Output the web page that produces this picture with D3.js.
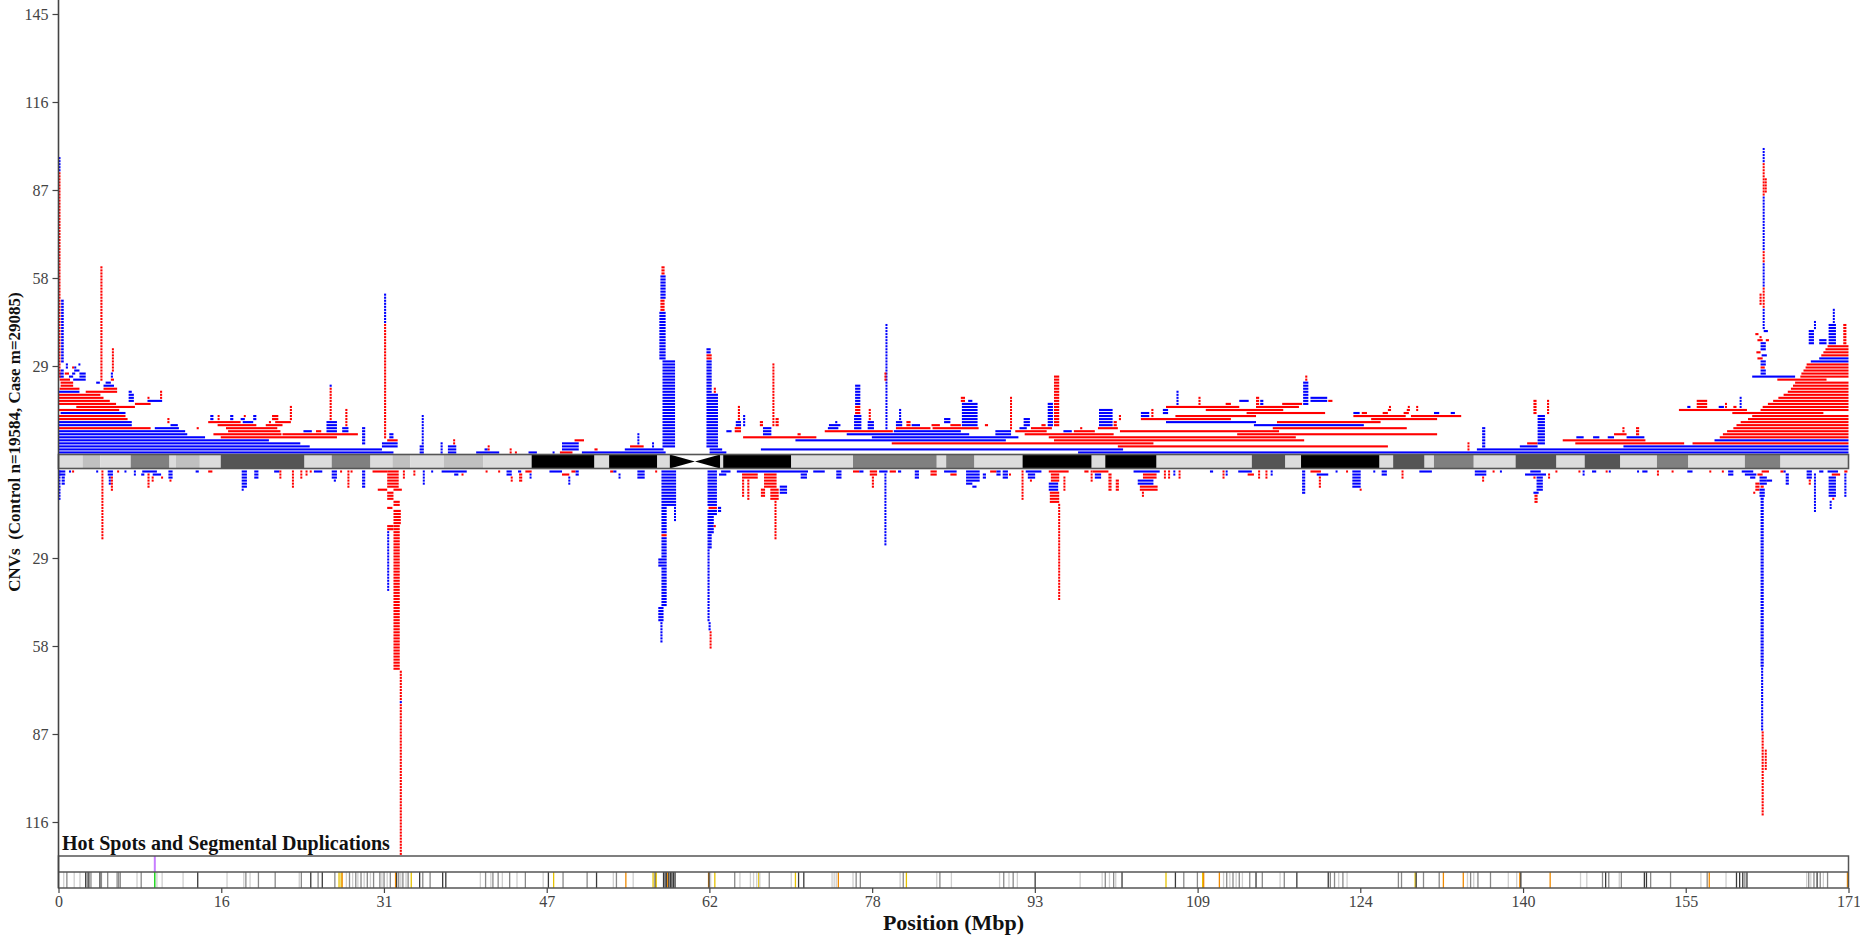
<!DOCTYPE html>
<html><head><meta charset="utf-8">
<script src="https://cdn.jsdelivr.net/npm/d3@7"></script>
<style>
body{margin:0;background:#fff}
svg{display:block}
text{font-family:"Liberation Serif","DejaVu Serif",serif}
</style>
</head><body>
<svg id="chart" width="1860" height="935"></svg>
<script>
// Chromosome 6 CNV map: case / control CNV stacks around the ideogram
const chrLength = 171;
const xTicks = [0, 15.55, 31.09, 46.64, 62.18, 77.73, 93.27, 108.82, 124.36, 139.91, 155.45, 171];
const yTicksUpper = [29, 58, 87, 116, 145];
const yTicksLower = [29, 58, 87, 116];
const yTitle = "CNVs  (Control n=19584, Case m=29085)";
const xTitle = "Position (Mbp)";
const trackTitle = "Hot Spots and Segmental Duplications";

// cytobands: [start Mbp, end Mbp, stain]
const bands = [
  [0,2.3,'gneg'],[2.3,4.0,'gpos25'],[4.0,6.9,'gneg'],[6.9,10.6,'gpos50'],[10.6,11.2,'gneg'],
  [11.2,13.5,'gpos25'],[13.5,15.5,'gneg'],[15.5,23.5,'gpos75'],[23.5,26.1,'gneg'],[26.1,29.8,'gpos50'],
  [29.8,31.9,'gneg'],[31.9,33.6,'gpos25'],[33.6,36.8,'gneg'],[36.8,40.6,'gpos25'],[40.6,45.2,'gneg'],
  [45.2,51.2,'gpos100'],[51.2,52.6,'gneg'],[52.6,57.2,'gpos100'],[57.2,58.4,'gneg'],[58.4,63.2,'acen'],
  [63.2,63.5,'gneg'],[63.5,70.0,'gpos100'],[70.0,75.9,'gneg'],[75.9,83.9,'gpos50'],[83.9,84.8,'gneg'],
  [84.8,87.5,'gpos50'],[87.5,92.1,'gneg'],[92.1,98.7,'gpos100'],[98.7,100.0,'gneg'],[100.0,104.9,'gpos100'],
  [104.9,114.0,'gneg'],[114.0,117.2,'gpos75'],[117.2,118.7,'gneg'],[118.7,126.2,'gpos100'],[126.2,127.5,'gneg'],
  [127.5,130.5,'gpos75'],[130.5,131.4,'gneg'],[131.4,135.2,'gpos50'],[135.2,139.2,'gneg'],[139.2,143.1,'gpos75'],
  [143.1,145.8,'gneg'],[145.8,149.2,'gpos75'],[149.2,152.7,'gneg'],[152.7,155.7,'gpos50'],[155.7,161.1,'gneg'],
  [161.1,164.5,'gpos50'],[164.5,171,'gneg']
];

// CNVs above the ideogram: [type R=loss/B=gain, start, end, first stack level, last stack level]
const upperCNVs = [
  ['B',0,32.0,0,0],['B',0,30.9,1,1],['B',0,24.0,2,2],['B',0,23.1,3,3],['B',0,20.1,4,4],
  ['B',0,14.0,5,5],['R',15.5,26.6,5,5],
  ['B',0,12.3,6,6],['R',14.8,21.3,6,6],['R',21.4,28.6,6,6],
  ['B',0,12.1,7,7],['R',16.2,21.2,7,7],['B',23.4,24.2,7,7],['R',24.6,25.1,7,7],['B',27.1,27.7,7,8],
  ['R',0,8.8,8,8],['B',9.2,11.5,8,8],['R',13.2,13.4,8,8],['R',16.0,20.9,8,8],
  ['B',0,7.0,9,10],['B',10.7,11.4,9,9],['R',15.2,18.9,9,9],['R',19.8,21.4,9,9],['R',27.4,27.6,9,14],
  ['R',10.4,10.6,10,11],['R',14.3,17.4,10,10],['B',17.6,18.6,10,10],['R',20.1,20.3,10,10],['R',20.7,22.2,10,10],
  ['B',25.6,26.6,7,10],
  ['R',0,6.6,11,11],['B',14.5,14.8,11,12],['R',15.2,15.3,11,12],['B',16.4,16.7,11,12],['B',17.4,17.8,11,11],
  ['R',17.7,17.8,12,12],['B',18.6,18.9,11,12],['R',20.4,21.0,11,12],['R',22.1,22.3,11,15],
  ['R',25.9,26.1,11,21],['B',25.9,26.1,22,22],
  ['R',0,6.4,12,12],['B',0.2,6.4,13,13],['R',0,5.8,14,14],['R',1.7,7.3,15,15],
  ['R',0,5.5,16,16],['R',7.3,8.8,16,16],
  ['R',0,4.9,17,17],['B',6.7,7.2,17,19],['B',8.5,9.9,17,17],['R',9.7,9.9,18,20],['R',8.5,8.6,18,18],
  ['R',0,4.3,18,18],['R',0,4.0,19,19],
  ['B',0,2.0,20,20],['R',2.6,5.6,20,20],['B',6.7,7.0,20,20],
  ['R',0.1,2.0,21,21],['R',4.3,5.6,21,21],
  ['R',0.2,1.4,22,23],['B',4.3,5.3,22,22],['B',3.6,3.95,23,23],['B',4.5,5.0,23,23],
  ['R',0.1,1.1,24,24],['B',1.4,2.6,24,24],['R',4.0,4.2,24,61],['R',5.0,5.3,24,24],
  ['B',0.1,0.5,25,26],['B',1.0,1.4,25,25],['B',2.0,2.6,25,26],['B',5.0,5.2,25,26],
  ['R',0.6,1.0,26,26],['B',1.3,1.6,26,26],
  ['B',0.2,0.5,27,27],['B',1.5,2.0,27,27],['R',5.1,5.2,27,34],
  ['B',0.7,0.9,28,29],['R',1.3,1.4,28,28],['B',1.5,1.7,28,28],['B',1.9,2.0,29,29],
  ['R',0,0.08,25,92],['B',0,0.08,93,97],['B',0.25,0.5,30,50],
  ['B',29.0,29.3,3,8],['B',30.9,32.4,2,3],['R',31.4,32.4,4,4],
  ['R',31.1,31.3,5,42],['B',31.1,31.3,43,52],['B',31.6,32.0,5,6],
  ['B',34.5,34.9,0,2],['B',34.7,34.85,3,12],
  ['B',36.5,36.7,0,3],['B',37.2,38.0,0,2],['R',37.7,37.8,3,4],
  ['B',39.9,42.1,0,0],['B',40.7,41.0,1,1],['R',41.0,41.1,1,2],
  ['R',43.1,43.2,0,1],['R',43.6,43.7,0,0],
  ['B',44.9,45.7,0,0],['B',47.2,47.3,0,0],
  ['R',47.9,49.1,0,0],['B',48.1,49.7,1,3],['R',49.3,50.2,4,4],
  ['B',50.0,58.0,0,0],['R',51.2,51.5,1,1],
  ['B',62.2,63.8,0,0],['B',97.4,171,0,0],
  ['B',54.1,57.8,1,1],['B',62.2,63.4,1,1],['B',67.1,101.7,1,1],
  ['R',54.6,55.9,2,2],['B',55.3,55.4,3,6],['B',56.7,56.8,2,3],
  ['B',57.7,58.9,2,30],['B',57.4,58.0,31,46],['R',57.5,57.9,47,50],['B',57.5,58.0,51,58],['R',57.6,57.9,59,61],
  ['B',61.9,63.0,2,19],['B',61.9,62.4,20,30],['R',61.9,62.4,31,32],['B',61.9,62.3,33,34],['R',62.6,62.8,20,21],
  ['R',101.2,127.0,2,2],
  ['R',79.6,104.6,3,3],
  ['B',70.4,90.5,4,4],['R',95.1,119.0,4,4],
  ['R',65.4,72.4,5,5],['B',77.7,91.7,5,5],['R',94.6,118.2,5,5],
  ['B',75.3,87.0,6,6],['R',92.3,100.8,6,6],['R',112.6,131.7,6,6],
  ['R',73.2,79.7,7,7],['B',79.8,86.2,7,7],['R',91.4,94.4,7,7],['B',96.0,96.8,7,7],['R',97.0,99.0,7,7],['R',101.4,116.6,7,7],
  ['R',80.0,83.3,8,8],['R',83.5,87.9,8,8],['B',91.8,92.5,8,8],['R',92.9,94.9,8,8],['R',99.3,101.2,8,8],['R',116.0,128.8,8,8],
  ['B',73.6,74.7,9,9],['R',85.2,86.2,9,9],['B',114.2,124.7,9,9],
  ['B',105.8,114.4,10,10],['R',116.4,126.3,10,10],
  ['R',103.4,112.0,11,11],['R',125.4,131.7,11,11],
  ['R',106.7,114.4,12,12],['R',123.7,128.7,12,12],['R',129.2,134.0,12,12],
  ['R',113.5,121.0,13,13],
  ['R',109.6,117.0,14,14],
  ['R',105.8,112.8,15,15],['R',114.4,118.5,15,15],
  ['R',116.9,118.8,16,16],
  ['B',63.8,64.3,7,7],['R',64.6,65.2,7,8],['B',64.7,65.2,9,10],['R',64.9,65.1,11,15],['B',65.4,65.6,9,12],
  ['R',67.0,67.3,9,10],['B',67.3,68.1,6,8],['R',68.2,68.3,9,29],['R',68.5,68.8,9,11],['R',70.6,70.9,6,6],
  ['B',73.5,74.5,8,8],['B',74.2,74.4,10,10],
  ['B',76.0,76.7,8,12],['R',76.1,76.6,13,15],['B',76.1,76.6,16,22],
  ['B',77.3,77.9,8,10],['R',77.4,77.6,11,14],
  ['B',79.0,79.1,8,42],['R',78.9,79.0,24,26],
  ['B',80.0,80.6,9,10],['B',80.3,80.5,11,14],['R',81.0,81.4,9,10],['B',81.5,82.3,9,9],
  ['R',83.4,84.2,9,9],['B',84.6,85.2,10,11],
  ['B',86.3,87.8,9,16],['R',86.2,86.6,17,18],['B',86.9,87.3,17,17],
  ['R',88.5,88.8,9,9],
  ['B',89.5,91.0,6,7],['R',90.9,91.0,8,18],
  ['B',92.2,92.8,9,11],['R',93.9,94.3,9,9],
  ['B',94.5,95.0,9,16],['R',95.1,95.6,9,25],
  ['R',97.6,97.8,8,8],['B',99.4,100.7,9,14],['R',100.8,101.1,9,10],['R',101.3,101.5,11,12],
  ['B',103.4,104.2,12,13],['R',104.4,104.6,12,14],['B',105.5,106.0,13,14],['B',106.8,107.0,16,20],['R',108.9,109.1,16,18],
  ['R',111.5,112.0,16,16],['B',112.8,113.7,17,17],['R',114.4,114.7,16,18],['B',114.8,115.1,16,17],
  ['B',118.9,119.4,16,23],['B',119.6,121.2,17,18],['R',121.3,121.7,17,17],['R',119.1,119.3,24,25],
  ['B',135.5,171,1,1],
  ['B',139.6,141.3,2,2],['B',149.5,171,2,2],
  ['R',140.3,141.3,3,3],['R',144.9,155.3,3,3],['R',156.1,171,3,3],
  ['R',143.7,151.6,4,4],['B',158.2,171,4,4],
  ['B',145.0,145.7,5,5],['B',146.6,147.2,5,5],['B',148.0,148.6,5,5],['B',149.8,151.5,5,5],['R',158.7,171,5,5],
  ['R',148.6,149.8,6,6],['R',159.0,171,6,6],
  ['R',149.4,149.6,7,8],['R',150.7,151.0,6,8],['R',159.4,171,7,7],
  ['R',160.0,171,8,8],['R',160.3,171,9,9],['R',160.7,171,10,10],['R',161.4,171,11,11],['R',161.8,171,12,12],
  ['R',159.9,168.6,13,13],
  ['R',154.8,161.3,14,14],['R',162.6,171,14,14],
  ['R',162.8,171,15,15],['R',163.3,171,16,16],['R',163.8,171,17,17],['R',164.3,171,18,18],['R',164.8,171,19,19],
  ['R',165.2,171,20,20],['R',165.5,171,21,21],['R',165.7,171,22,22],['R',165.9,171,23,23],
  ['R',164.2,168.9,24,24],
  ['B',161.8,165.9,25,25],['R',166.4,171,25,25],
  ['R',166.5,171,26,26],['R',166.7,171,27,27],['R',166.9,171,28,28],['R',167.0,171,29,29],
  ['B',167.4,171,30,30],['B',168.2,171,31,31],
  ['R',168.4,171,32,32],['R',168.6,171,33,33],['R',168.8,171,34,34],['R',169.0,171,35,35],
  ['R',134.6,134.7,1,3],['B',136.0,136.3,2,8],
  ['B',141.3,142.0,3,12],['R',140.9,141.2,13,17],['R',142.2,142.4,13,17],
  ['B',155.6,155.9,15,15],['R',156.5,157.5,15,17],['B',158.6,159.1,15,15],['R',159.2,159.3,15,16],
  ['B',160.6,160.7,15,18],['R',160.0,160.3,15,15],
  ['B',162.6,163.1,26,27],['R',162.6,163.0,28,28],['B',162.6,163.1,29,30],['R',162.3,162.8,31,31],
  ['B',162.7,163.2,32,32],['R',162.2,162.6,33,33],['B',162.6,163.1,34,36],['R',162.3,162.8,37,37],
  ['R',163.1,163.4,37,37],['R',162.5,162.7,38,38],['R',162.1,162.4,39,39],['B',162.9,163.3,40,40],['B',162.8,163.0,41,41],
  ['B',162.8,162.95,42,47],['R',162.8,162.95,48,54],['B',162.8,162.95,55,62],['R',162.8,162.95,63,66],
  ['B',162.8,162.95,67,84],['R',162.8,162.95,85,95],['B',162.8,162.95,96,100],
  ['R',162.5,162.7,49,52],['R',163.0,163.1,86,90],
  ['B',167.2,167.7,36,40],['B',168.2,168.9,36,37],['B',169.1,169.8,36,42],['B',169.5,169.6,43,47],
  ['R',170.5,170.8,36,42],['B',167.7,167.8,41,43],
  ['B',123.7,124.3,13,13],['R',124.5,125.0,13,13],['R',126.5,127.0,13,13],['R',128.5,129.0,13,13],
  ['B',131.4,131.9,13,13],['B',133.0,133.4,13,13],
  ['R',127.0,127.3,14,14],['R',128.8,129.1,14,14],['R',129.7,129.8,14,15],['R',127.1,127.2,15,15],['R',128.9,129.0,15,15]
];

// CNVs below the ideogram
const lowerCNVs = [
  ['B',0,0.08,0,9],['B',0.05,0.65,0,1],['B',0.3,0.6,2,4],
  ['B',1.0,1.2,0,0],['R',1.3,1.4,0,0],['B',3.6,3.7,0,0],
  ['R',4.1,4.2,0,22],
  ['B',4.7,5.2,0,1],['B',4.8,5.0,2,4],['R',5.0,5.2,2,6],
  ['R',5.6,5.7,0,0],['B',6.3,6.4,0,0],['B',7.2,7.3,0,1],
  ['B',8.0,9.4,0,0],['B',7.9,8.2,1,1],['B',9.0,9.8,1,1],['R',8.5,8.7,1,5],['R',8.9,9.0,2,3],['R',9.8,9.9,2,2],
  ['B',10.5,10.9,0,2],['R',10.6,10.7,3,3],
  ['B',13.1,13.4,0,0],['R',14.3,14.7,0,0],
  ['B',17.5,18.0,0,5],['B',17.5,17.6,6,6],['B',18.7,19.1,0,2],
  ['B',20.6,21.1,0,0],['R',21.1,21.2,0,2],
  ['R',22.3,22.4,0,5],['R',23.1,23.2,0,2],['R',23.6,23.7,0,1],['R',24.0,24.1,0,0],
  ['B',24.4,25.2,0,0],
  ['B',26.1,26.6,0,2],['B',26.3,26.5,3,3],
  ['R',26.9,27.0,0,0],['R',27.6,27.7,0,5],['R',27.9,28.0,0,0],
  ['B',29.0,29.3,0,5],
  ['R',30.0,31.4,0,0],['R',31.4,32.5,0,5],['R',30.5,31.4,6,6],['R',32.0,32.8,6,6],
  ['R',31.4,32.0,7,9],['R',32.0,32.6,10,11],['R',31.4,31.9,12,12],['R',32.0,32.7,13,17],
  ['R',31.4,32.0,18,19],['R',32.0,32.6,18,19],
  ['B',31.4,31.5,20,39],['R',32.0,32.6,20,65],['R',32.6,32.8,66,75],['B',32.6,32.8,76,76],['R',32.6,32.8,77,126],
  ['R',32.9,33.0,0,2],['R',33.9,34.0,0,1],['B',34.8,34.9,0,4],['B',35.6,35.7,0,0],
  ['B',36.6,39.0,0,0],['B',37.8,38.2,1,1],['R',38.5,38.6,1,1],
  ['R',40.8,40.9,0,0],['R',42.0,42.1,0,0],
  ['B',42.8,43.3,0,1],['R',43.2,43.3,2,3],
  ['B',43.9,44.2,0,0],['R',44.0,44.3,1,3],
  ['R',44.6,45.2,0,0],['B',45.0,45.1,1,2],
  ['B',46.9,48.1,0,0],['R',48.1,48.8,1,1],['R',49.0,49.4,0,0],['B',49.4,49.7,0,1],['B',48.7,48.8,2,4],
  ['R',52.7,53.0,0,0],['B',53.0,53.3,0,0],['B',53.5,53.6,1,2],
  ['B',55.3,56.0,0,2],['R',57.0,57.1,0,0],
  ['B',57.6,59.0,0,11],['B',58.8,58.9,12,16],['B',57.6,58.1,12,20],['R',57.6,58.1,21,21],['B',57.6,58.1,22,28],
  ['B',57.3,58.1,29,31],['B',57.6,58.1,32,44],['B',57.3,57.8,45,49],['B',57.5,57.7,50,56],
  ['B',62.0,62.9,0,11],['R',62.1,62.9,12,12],['B',63.0,63.3,12,13],['B',62.0,62.9,13,14],['B',62.0,62.6,15,20],
  ['R',62.6,62.7,18,18],['B',62.0,62.4,21,25],['B',62.0,62.2,26,49],['B',62.1,62.3,50,52],['R',62.2,62.3,53,58],
  ['B',63.3,64.2,0,0],['B',63.1,63.8,1,1],
  ['B',64.8,71.6,0,0],
  ['R',65.3,66.8,1,2],['R',65.3,65.5,3,8],['R',65.8,66.0,3,9],
  ['R',67.4,68.6,1,5],['R',67.1,67.5,6,8],['R',68.0,68.8,6,9],['B',68.9,69.6,5,7],['R',68.4,68.5,10,22],
  ['B',70.9,71.5,1,2],
  ['B',72.1,73.2,0,0],['B',74.3,74.8,0,2],
  ['R',75.9,76.5,0,0],['B',76.5,76.9,0,0],
  ['R',77.5,78.2,0,1],['R',77.7,77.9,2,5],
  ['B',78.4,79.2,0,0],['B',78.9,79.0,1,24],
  ['R',79.4,80.0,0,0],['B',80.2,80.5,0,0],
  ['B',81.8,82.2,0,2],['R',83.3,83.9,0,1],
  ['B',84.6,85.8,0,0],['R',85.2,85.8,1,1],
  ['B',86.7,88.0,0,3],['B',86.7,87.3,4,4],['B',87.3,87.7,5,5],['B',88.3,88.6,1,2],
  ['R',89.0,89.6,0,0],['B',89.6,90.0,0,1],['B',90.2,90.7,0,2],['R',90.8,90.9,1,1],
  ['R',92.0,92.1,0,9],
  ['B',92.4,93.9,0,0],['B',92.6,93.3,1,2],['R',92.8,92.9,3,3],
  ['R',94.6,96.5,0,0],['R',94.8,95.6,1,3],['B',94.6,95.5,4,6],['R',94.7,95.6,7,10],['R',95.5,95.6,11,42],['R',96.0,96.1,2,6],
  ['R',98.0,98.4,0,0],['R',98.6,98.7,0,3],['R',98.8,100.3,0,0],
  ['B',99.0,99.6,1,2],['R',100.3,100.6,1,6],['R',101.0,101.3,3,6],
  ['B',102.7,105.2,0,0],['R',103.6,104.9,1,2],['B',103.1,104.6,3,4],['R',103.3,105.0,5,6],['R',103.5,103.6,7,8],
  ['R',105.6,105.7,0,2],['R',106.0,106.1,0,2],['B',106.5,106.6,0,1],['R',107.0,107.1,0,2],
  ['B',110.0,110.3,0,0],['R',111.2,111.3,0,2],['B',111.5,111.6,0,1],
  ['B',112.7,114.0,0,0],['R',113.6,114.2,1,1],
  ['R',114.6,114.7,0,2],['R',115.3,115.4,0,2],['B',115.8,115.9,0,1],
  ['B',118.8,119.1,0,7],
  ['R',119.6,120.6,0,0],['B',120.2,121.3,1,1],['R',120.4,120.6,2,5],
  ['B',122.0,122.1,0,0],['R',123.0,123.1,0,0],
  ['B',123.6,124.4,0,5],['R',124.3,124.4,6,6],
  ['B',125.6,125.7,0,0],['B',126.4,126.9,0,1],['R',128.3,128.4,0,2],
  ['B',130.0,131.2,0,0],
  ['B',135.3,136.4,0,1],['R',136.0,136.1,2,3],
  ['R',137.0,137.1,0,0],['B',137.7,137.8,0,0],
  ['B',140.6,141.6,0,0],['B',140.1,142.1,1,1],['R',140.9,141.1,2,2],['B',141.2,141.8,2,6],
  ['B',140.9,141.4,7,7],['R',141.0,141.3,8,10],['R',142.3,142.4,1,2],
  ['R',143.0,143.1,0,0],
  ['R',145.2,145.3,0,0],['B',145.6,145.7,0,1],
  ['B',146.5,146.9,0,0],['R',147.8,147.9,0,0],['B',148.1,148.2,0,0],
  ['B',150.8,150.9,0,0],['B',151.3,151.8,0,0],['R',152.7,152.8,0,1],['R',154.1,154.2,0,0],
  ['B',155.6,156.1,0,0],['R',157.7,157.8,0,0],['R',158.9,159.0,0,0],
  ['B',159.5,160.0,0,1],
  ['B',160.8,161.9,0,0],['B',161.1,162.2,1,1],['B',161.6,162.1,2,2],['R',162.7,163.4,0,0],['R',162.3,162.8,1,1],
  ['B',162.5,163.2,2,4],['B',163.2,163.7,3,3],['R',162.1,162.5,4,6],['R',162.6,162.9,5,5],['B',162.5,163.0,6,8],['R',161.9,162.0,7,7],
  ['B',162.6,162.9,9,64],['B',162.65,162.85,65,85],['R',162.7,162.9,86,113],['R',163.0,163.1,92,98],
  ['R',164.5,164.8,0,0],['B',164.8,165.0,0,0],['B',165.0,165.3,1,4],
  ['B',167.0,167.5,0,2],['R',167.2,167.4,3,4],['B',167.7,167.85,1,13],
  ['B',168.2,168.6,0,0],
  ['B',169.0,170.0,0,0],['R',169.4,170.2,1,1],['B',169.1,169.8,2,8],['R',169.45,169.55,9,9],['B',169.2,169.3,10,12],
  ['R',170.6,170.9,0,0],['B',170.6,170.8,1,8]
];

// hot spots / segmental duplications: [position Mbp, class]
const hotspots = [
  [0.5,'l'],[0.8,'m'],[1.5,'l'],[2.05,'l'],[2.6,'k'],[2.75,'m'],[2.9,'k'],[3.1,'m'],[3.96,'k'],[4.1,'m'],[4.7,'m'],
  [5.6,'m'],[5.75,'m'],[5.9,'m'],[7.5,'l'],[7.9,'m'],[9.2,'g'],[9.4,'l'],[9.9,'l'],[11.9,'l'],[13.3,'k'],
  [16.1,'l'],[17.7,'l'],[17.9,'m'],[18.3,'l'],[19.1,'m'],[20.7,'m'],[23.0,'l'],[23.2,'m'],[24.1,'k'],[24.8,'m'],
  [25.2,'k'],[26.4,'m'],[26.8,'y'],[27.0,'y'],[27.1,'o'],[27.5,'l'],[27.8,'m'],[28.1,'l'],[28.4,'m'],[28.6,'l'],
  [28.9,'m'],[29.2,'l'],[29.5,'m'],[29.8,'l'],[30.1,'m'],[30.7,'m'],[30.9,'l'],[31.1,'m'],[31.4,'l'],[31.7,'m'],
  [32.2,'o'],[32.3,'k'],[32.5,'m'],[32.7,'l'],[32.9,'m'],[33.2,'l'],[33.4,'m'],[33.7,'y'],[34.5,'k'],[34.8,'m'],
  [35.5,'m'],[36.7,'k'],[37.0,'k'],[40.3,'l'],[40.8,'m'],[41.3,'l'],[41.5,'m'],
  [42.0,'m'],[42.4,'l'],[43.1,'m'],[43.8,'l'],[44.6,'m'],[46.3,'l'],[46.8,'k'],[47.3,'y'],[48.2,'m'],[50.5,'m'],
  [51.4,'k'],[53.0,'l'],[53.3,'m'],[54.2,'o'],[54.9,'l'],[56.8,'y'],[57.0,'k'],[57.1,'y'],
  [57.8,'k'],[57.95,'k'],[58.1,'k'],[58.2,'o'],[58.3,'k'],[58.45,'k'],[58.6,'k'],[58.75,'k'],[58.9,'k'],
  [62.1,'o'],[62.15,'k'],[62.3,'l'],[62.7,'y'],[64.6,'m'],[65.1,'l'],[66.1,'l'],[66.4,'l'],[66.7,'l'],[66.9,'y'],
  [67.0,'l'],[67.9,'m'],[70.0,'l'],[70.4,'y'],[70.7,'k'],[71.2,'k'],[73.9,'l'],[74.1,'l'],[74.3,'l'],[74.5,'o'],
  [75.9,'l'],[76.2,'m'],[76.6,'m'],[80.4,'l'],[80.7,'m'],[81.0,'y'],[83.9,'l'],[84.2,'m'],[85.3,'l'],[89.9,'l'],
  [90.3,'m'],[90.8,'l'],[91.2,'m'],[91.6,'l'],[93.3,'k'],[97.6,'l'],[99.7,'l'],[100.0,'m'],[100.4,'l'],[100.8,'m'],
  [101.0,'l'],[101.6,'k'],[105.8,'y'],[106.7,'k'],[107.5,'m'],[108.8,'m'],
  [109.3,'y'],[109.4,'o'],[110.9,'o'],[111.3,'l'],[111.6,'m'],[111.9,'l'],[112.2,'m'],[112.5,'l'],[112.8,'m'],
  [113.1,'l'],[113.8,'m'],[114.4,'k'],[115.0,'m'],[116.7,'l'],[117.1,'m'],[118.3,'k'],[121.3,'k'],[121.5,'m'],
  [121.9,'m'],[122.3,'l'],[122.7,'m'],[123.1,'l'],[128.0,'m'],[128.3,'m'],[129.6,'y'],[129.7,'k'],[130.4,'m'],
  [131.9,'m'],[132.3,'o'],[134.2,'o'],[134.6,'l'],[134.9,'m'],[135.2,'l'],[135.6,'m'],[136.8,'m'],[138.5,'l'],
  [139.3,'l'],[139.6,'o'],[139.7,'k'],[142.5,'o'],[145.4,'l'],[146.0,'l'],[147.5,'m'],[147.8,'k'],[148.1,'m'],
  [149.1,'l'],[149.3,'m'],[151.5,'k'],[151.7,'k'],[152.1,'m'],[154.0,'m'],[156.9,'l'],[157.5,'m'],[157.7,'o'],
  [159.3,'l'],[160.3,'k'],[160.6,'k'],[160.9,'k'],[161.1,'m'],[161.3,'k'],[167.0,'l'],[167.2,'m'],[167.4,'l'],
  [167.7,'m'],[168.0,'k'],[168.3,'m'],[168.6,'l'],[169.0,'m'],[170.9,'o']
];
const hotspotMarks = [[9.2,'p']];

// ---------- drawing ----------
const svg = d3.select('#chart');
svg.append('rect').attr('width',1860).attr('height',935).attr('fill','#fff');

const x = d3.scaleLinear().domain([0, chrLength]).range([58.5, 1848.5]);
const yUp = d3.scaleLinear().domain([0, 145]).range([454, 14]);
const yLo = d3.scaleLinear().domain([0, 116]).range([470, 822]);
const cnvColor = {R: '#ff0000', B: '#0000ff'};
const stainFill = {gneg:'#dcdcdc', gpos25:'#c0c0c0', gpos50:'#808080', gpos75:'#555555', gpos100:'#000000'};
const spotColor = {k:'#3a3a3a', m:'#8a8a8a', l:'#cfcfcf', y:'#e6c200', o:'#f08a00', g:'#00d000', p:'#c77dff'};

const trackTop = 856, trackMid = 872, trackBottom = 888;

function expand(list) {
  const out = [];
  list.forEach(([t, s, e, lo, hi]) => { for (let r = lo; r <= hi; r++) out.push({t, s, e, r}); });
  return out;
}

// CNV stacks
const upperG = svg.append('g');
upperG.selectAll('rect').data(expand(upperCNVs)).join('rect')
  .attr('x', d => x(d.s))
  .attr('width', d => Math.max(2, x(d.e) - x(d.s)))
  .attr('y', d => yUp(d.r + 1) + 0.45)
  .attr('height', 2.1)
  .attr('fill', d => cnvColor[d.t]);

const lowerG = svg.append('g');
lowerG.selectAll('rect').data(expand(lowerCNVs)).join('rect')
  .attr('x', d => x(d.s))
  .attr('width', d => Math.max(2, x(d.e) - x(d.s)))
  .attr('y', d => yLo(d.r) + 0.45)
  .attr('height', 2.1)
  .attr('fill', d => cnvColor[d.t]);

// ideogram
const ideoTop = 454.5, ideoBottom = 468.5, ideoMid = (ideoTop + ideoBottom) / 2;
const ideo = svg.append('g');
ideo.selectAll('rect.band').data(bands.filter(b => b[2] !== 'acen')).join('rect')
  .attr('class','band')
  .attr('x', d => x(d[0])).attr('width', d => x(d[1]) - x(d[0]))
  .attr('y', ideoTop).attr('height', ideoBottom - ideoTop)
  .attr('fill', d => stainFill[d[2]]);
bands.filter(b => b[2] === 'acen').forEach(b => {
  const a = x(b[0]), c = x(b[1]), m = (a + c) / 2;
  ideo.append('rect').attr('x', a).attr('width', c - a).attr('y', ideoTop).attr('height', ideoBottom - ideoTop).attr('fill', '#fff');
  ideo.append('path').attr('d', `M${a},${ideoTop}L${m},${ideoMid}L${a},${ideoBottom}Z`).attr('fill', '#000');
  ideo.append('path').attr('d', `M${c},${ideoTop}L${m},${ideoMid}L${c},${ideoBottom}Z`).attr('fill', '#000');
});
ideo.append('rect').attr('x', x(0)).attr('width', x(chrLength) - x(0))
  .attr('y', ideoTop).attr('height', ideoBottom - ideoTop)
  .attr('fill', 'none').attr('stroke', '#555').attr('stroke-width', 1.6);

// hot spot track
const track = svg.append('g');
track.selectAll('line.spot').data(hotspots).join('line')
  .attr('class','spot')
  .attr('x1', d => x(d[0])).attr('x2', d => x(d[0]))
  .attr('y1', trackMid).attr('y2', trackBottom)
  .attr('stroke', d => spotColor[d[1]]).attr('stroke-width', 1.3);
track.selectAll('line.mark').data(hotspotMarks).join('line')
  .attr('class','mark')
  .attr('x1', d => x(d[0])).attr('x2', d => x(d[0]))
  .attr('y1', trackTop).attr('y2', trackMid)
  .attr('stroke', d => spotColor[d[1]]).attr('stroke-width', 2);
track.append('rect').attr('x', x(0)).attr('width', x(chrLength) - x(0))
  .attr('y', trackTop).attr('height', trackBottom - trackTop)
  .attr('fill', 'none').attr('stroke', '#555').attr('stroke-width', 1.5);
track.append('line').attr('x1', x(0)).attr('x2', x(chrLength)).attr('y1', trackMid).attr('y2', trackMid)
  .attr('stroke', '#555').attr('stroke-width', 1.5);
svg.append('text').attr('x', 62).attr('y', 850)
  .attr('font-size', 20).attr('font-weight', 'bold').attr('fill', '#111').text(trackTitle);

// axes
const axisColor = '#444';
const yAxisUp = d3.axisLeft(yUp).tickValues(yTicksUpper).tickSize(6).tickPadding(4).tickFormat(d3.format('d'));
const yAxisLo = d3.axisLeft(yLo).tickValues(yTicksLower).tickSize(6).tickPadding(4).tickFormat(d3.format('d'));
function styleAxis(g) {
  g.select('.domain').remove();
  g.selectAll('.tick line').attr('stroke', axisColor).attr('stroke-width', 1.2);
  g.selectAll('.tick text').attr('font-family', '"Liberation Serif", serif').attr('font-size', 16).attr('fill', '#444');
}
svg.append('g').attr('transform', 'translate(58.5,0)').call(yAxisUp).call(styleAxis);
svg.append('g').attr('transform', 'translate(58.5,0)').call(yAxisLo).call(styleAxis);
svg.append('line').attr('x1', 58.5).attr('x2', 58.5).attr('y1', 0).attr('y2', trackBottom)
  .attr('stroke', axisColor).attr('stroke-width', 1.6);

const xAxis = d3.axisBottom(x).tickValues(xTicks).tickSize(5).tickPadding(3).tickFormat(d => Math.round(d));
svg.append('g').attr('transform', `translate(0,${trackBottom})`).call(xAxis).call(styleAxis);

svg.append('text').attr('x', (x(0) + x(chrLength)) / 2).attr('y', 930)
  .attr('text-anchor', 'middle').attr('font-size', 22).attr('font-weight', 'bold').attr('fill', '#111').text(xTitle);

svg.append('text').attr('transform', 'translate(20,442) rotate(-90)')
  .attr('text-anchor', 'middle').attr('font-size', 17).attr('font-weight', 'bold').attr('fill', '#111')
  .style('white-space', 'pre').text(yTitle);
</script>
</body></html>
